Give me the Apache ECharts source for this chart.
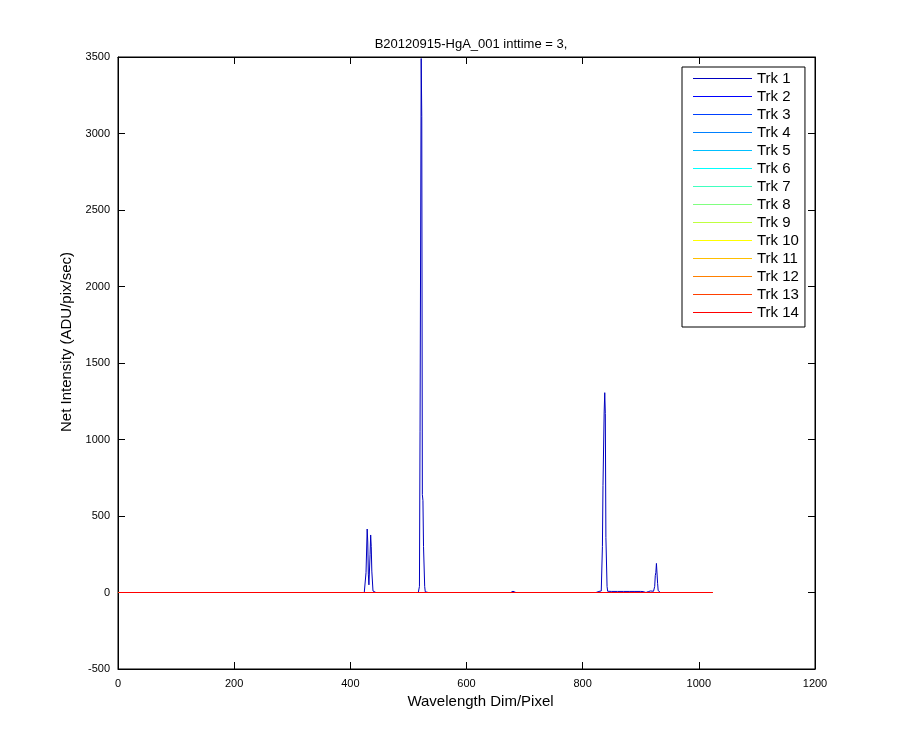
<!DOCTYPE html>
<html>
<head>
<meta charset="utf-8">
<script src="https://cdn.jsdelivr.net/npm/echarts@6/dist/echarts.min.js"></script>
<style>html,body{margin:0;padding:0;background:#fff;}#c{width:900px;height:750px;}</style>
</head>
<body>
<div id="c"></div>
<script>
// Track names and colours (jet colormap, 14 entries)
var trackNames = ['Trk 1','Trk 2','Trk 3','Trk 4','Trk 5','Trk 6','Trk 7','Trk 8','Trk 9','Trk 10','Trk 11','Trk 12','Trk 13','Trk 14'];
var trackColors = ['#0000BF','#0000FF','#0040FF','#0080FF','#00BFFF','#00FFFF','#40FFBF','#80FF80','#BFFF40','#FFFF00','#FFBF00','#FF8000','#FF4000','#FF0000'];

// Trk 1 spectrum as [pixel, intensity] points (zero elsewhere)
var trk1Points = [
  [1,0],[424,0],[425,0],[426,8],[427,130],[428,135],[429,415],[430,330],[431,120],[432,50],[433,55],
  [434,250],[435,376],[436,300],[437,140],[438,135],[439,10],[440,0],[444,0],
  [517,0],[518,5],[519,40],[520,1050],[521,1040],[522,3490],[523,3110],[524,640],[525,600],
  [526,300],[527,290],[528,40],[529,5],[530,0],[534,0],
  [676,0],[677,4],[678,10],[679,10],[680,8],[681,0],[685,0],
  [823,0],[824,3],[825,7],[828,7],[830,8],[832,10],[833,20],[834,300],[835,700],[836,690],
  [837,1180],[838,1306],[839,1170],[840,360],[841,350],[842,40],[843,8],[845,7],[850,7],
  [860,7],[870,7],[880,7],[890,7],[900,7],[904,6],[905,0],[909,0],
  [911,0],[912,3],[913,6],[914,12],[915,14],[916,13],[917,10],[918,5],[919,3],[920,2],[921,3],
  [922,8],[923,20],[924,40],[925,110],[926,130],[927,190],[928,185],[929,60],[930,12],[931,3],[932,0],[934,0],
  [1024,0]
];
// Tracks 2..14: flat zero lines across the detector
var zeroTrackPoints = [[1,0],[1024,0]];

// Axis settings
var xMin = 0, xMax = 1200, xStep = 200;
var yMin = -500, yMax = 3500, yStep = 500;
var titleText = 'B20120915-HgA_001 inttime = 3,';
var xName = 'Wavelength Dim/Pixel';
var yName = 'Net Intensity (ADU/pix/sec)';

var FONT = 'Arial, "Liberation Sans", Helvetica, sans-serif';

var series = trackNames.map(function (name, i) {
  return {
    name: name,
    type: 'line',
    data: i === 0 ? trk1Points : zeroTrackPoints,
    symbol: 'none',
    showSymbol: false,
    animation: false,
    lineStyle: { width: 1, color: trackColors[i] },
    itemStyle: { color: trackColors[i] },
    z: 2 + i
  };
});

var axisLine = { show: true, onZero: false, lineStyle: { color: '#000', width: 1 } };
var axisTick = { show: true, inside: true, length: 7, lineStyle: { color: '#000', width: 1 } };
var plain = function (v) { return String(v); };

var option = {
  backgroundColor: '#fff',
  animation: false,
  title: {
    text: titleText,
    left: 466,
    top: 33,
    textAlign: 'center',
    textStyle: { fontFamily: FONT, fontSize: 13, fontWeight: 'normal', color: '#000' }
  },
  grid: { left: 118, right: 85, top: 57, bottom: 81, show: true, borderColor: '#000', borderWidth: 1, backgroundColor: '#fff' },
  legend: {
    orient: 'vertical',
    left: 682,
    top: 67,
    padding: [3, 6, 6, 11],
    itemWidth: 59,
    itemHeight: 1,
    itemGap: 1,
    icon: 'rect',
    backgroundColor: '#fff',
    borderColor: '#000',
    borderWidth: 1,
    borderRadius: 0,
    textStyle: { fontFamily: FONT, fontSize: 15, lineHeight: 17, color: '#000' },
    data: trackNames
  },
  xAxis: [{
    type: 'value', min: xMin, max: xMax, interval: xStep, position: 'bottom',
    name: xName, nameLocation: 'middle', nameGap: 24,
    nameTextStyle: { fontFamily: FONT, fontSize: 15, color: '#000', padding: [0, 0, 0, 28] },
    axisLine: axisLine, axisTick: axisTick,
    axisLabel: { fontFamily: FONT, fontSize: 11, color: '#000', margin: 9, formatter: plain },
    splitLine: { show: false }
  }, {
    type: 'value', min: xMin, max: xMax, interval: xStep, position: 'top',
    axisLine: axisLine, axisTick: axisTick, axisLabel: { show: false }, splitLine: { show: false }
  }],
  yAxis: [{
    type: 'value', min: yMin, max: yMax, interval: yStep, position: 'left',
    name: yName, nameLocation: 'middle', nameGap: 42,
    nameTextStyle: { fontFamily: FONT, fontSize: 15, color: '#000', padding: [0, 0, 0, 42] },
    axisLine: axisLine, axisTick: axisTick,
    axisLabel: { fontFamily: FONT, fontSize: 11, color: '#000', margin: 8, formatter: plain },
    splitLine: { show: false }
  }, {
    type: 'value', min: yMin, max: yMax, interval: yStep, position: 'right',
    axisLine: axisLine, axisTick: axisTick, axisLabel: { show: false }, splitLine: { show: false }
  }],
  series: series
};

var chart = echarts.init(document.getElementById('c'), null, { renderer: 'canvas' });
chart.setOption(option);
</script>
</body>
</html>
